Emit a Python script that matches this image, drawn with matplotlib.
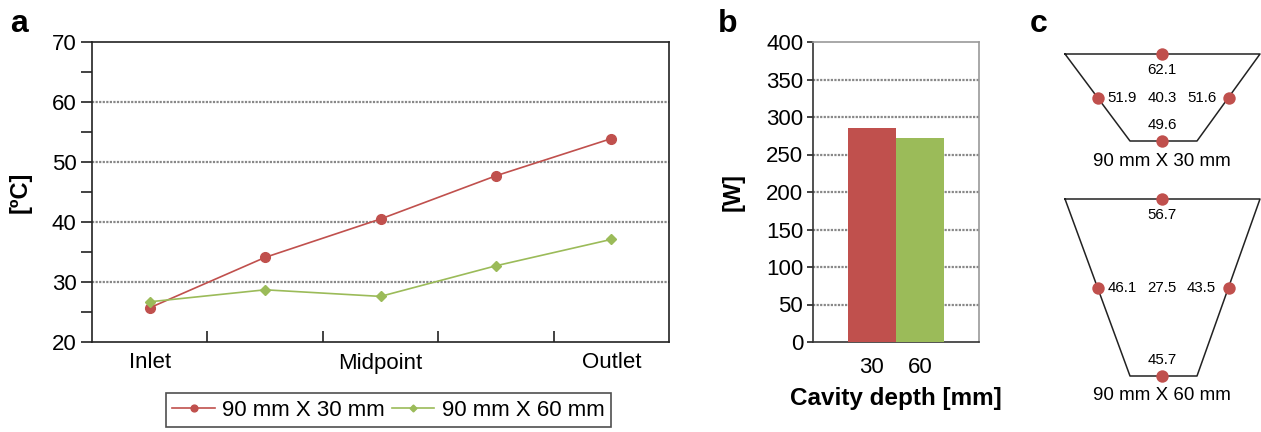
import matplotlib
matplotlib.use("Agg")
import matplotlib.pyplot as plt

plt.rcParams['font.family'] = ['Liberation Sans', 'DejaVu Sans']

# ---------------- data ----------------
positions = ["Inlet", "", "Midpoint", "", "Outlet"]
temp_30 = [25.7, 34.1, 40.5, 47.7, 53.9]
temp_60 = [26.7, 28.7, 27.6, 32.7, 37.1]
series_names = ["90 mm X 30 mm", "90 mm X 60 mm"]

depths = ["30", "60"]
power = [286, 272]

# panel c: surface temperatures (top, left, centre, right, bottom)
surf_30 = [62.1, 51.9, 40.3, 51.6, 49.6]
surf_60 = [56.7, 46.1, 27.5, 43.5, 45.7]

RED = "#C0504D"
GREEN = "#9BBB59"
FS = 16

W, H = 1261, 432
fig = plt.figure(figsize=(W / 100, H / 100), dpi=100)

def ax_rect(x0, x1, ytop, ybot):
    return [x0 / W, 1 - ybot / H, (x1 - x0) / W, (ybot - ytop) / H]

# ---------------- panel a ----------------
axa = fig.add_axes(ax_rect(92, 669, 42, 342))
x = list(range(len(positions)))
la, = axa.plot(x, temp_30, color=RED, lw=1.2, marker='o', ms=7, mec=RED, mfc=RED)
lb, = axa.plot(x, temp_60, color=GREEN, lw=1.2, marker='D', ms=5, mec=GREEN, mfc=GREEN)
axa.set_xlim(-0.5, len(positions) - 0.5)
axa.set_ylim(20, 70)
axa.set_yticks(range(20, 71, 10))
axa.set_yticks(range(25, 70, 10), minor=True)
axa.tick_params(axis='y', which='both', direction='out', length=8, width=1.2,
                labelsize=FS, pad=3, color='#222222')
axa.set_xticks([i + 0.5 for i in range(len(positions) - 1)])
axa.set_xticklabels([])
axa.tick_params(axis='x', which='major', direction='in', length=8, width=1.2, color='#222222')
for i, lab in enumerate(positions):
    if lab:
        axa.text(i, -0.035, lab, transform=axa.get_xaxis_transform(), ha='center',
                 va='top', fontsize=FS)
for v in [30, 40, 50, 60]:
    axa.axhline(v, color='#888888', lw=1.6, ls=(0, (1, 0.6)), zorder=0)
for s in axa.spines.values():
    s.set_color('#222222')
    s.set_linewidth(1.2)
axa.set_ylabel("[ºC]", fontsize=17, fontweight='bold')
axa.yaxis.set_label_coords(-0.104, 0.5)
fig.text(10 / W, 1 - 24 / H, "a", fontsize=23, fontweight='bold', va='center', ha='left')

leg = fig.legend([la, lb], series_names, loc='center', bbox_to_anchor=(388.5 / W, 1 - 410 / H),
                 ncol=2, frameon=True, fancybox=False, fontsize=FS, handlelength=1.9,
                 handletextpad=0.35, columnspacing=0.3, borderpad=0.3,
                 markerscale=0.7)
leg.get_frame().set_edgecolor('#222222')
leg.get_frame().set_linewidth(1.2)

# ---------------- panel b ----------------
axb = fig.add_axes(ax_rect(813, 979, 42, 342))
xb = list(range(len(depths)))
axb.bar(xb, power, width=1.0, color=[RED, GREEN], zorder=3)
axb.set_xlim(-1.22, 2.22)
axb.set_ylim(0, 400)
axb.set_yticks(range(0, 401, 50))
axb.tick_params(axis='y', direction='out', length=4, width=1.2, labelsize=FS, pad=3,
                color='#222222')
axb.set_xticks(xb)
axb.set_xticklabels(depths, fontsize=FS)
axb.tick_params(axis='x', length=0, pad=11)
for v in range(50, 400, 50):
    axb.axhline(v, color='#888888', lw=1.6, ls=(0, (1, 0.6)), zorder=0)
for name, s in axb.spines.items():
    s.set_linewidth(1.2)
    s.set_color('#999999' if name in ('top', 'right') else '#333333')
axb.set_ylabel("[W]", fontsize=17, fontweight='bold')
axb.yaxis.set_label_coords(-0.41, 0.5)
axb.set_xlabel("Cavity depth [mm]", fontsize=17.5, fontweight='bold')
axb.xaxis.set_label_coords(0.5, -(398 - 342) / 300, transform=axb.transAxes)
axb.xaxis.label.set_va('center')
fig.text(718 / W, 1 - 24 / H, "b", fontsize=23, fontweight='bold', va='center', ha='left')

# ---------------- panel c ----------------
axc = fig.add_axes([1020 / W, 0, (W - 1020) / W, 1])
axc.set_xlim(1020, W)
axc.set_ylim(H, 0)
axc.axis('off')

def cavity(top_y, bot_y, vals, title):
    xl_t, xr_t = 1065, 1260
    xl_b, xr_b = 1130, 1197
    cx = (xl_t + xr_t) / 2 - 0.5
    axc.plot([xl_t, xr_t, xr_b, xl_b, xl_t], [top_y, top_y, bot_y, bot_y, top_y],
             color='#222222', lw=1.1, clip_on=False)
    my = (top_y + bot_y) / 2
    lx = (xl_t + xl_b) / 2
    rx = (xr_t + xr_b) / 2
    axc.scatter([cx, lx, rx, cx], [top_y, my, my, bot_y], s=80, color=RED, zorder=5,
                clip_on=False, linewidths=0)
    fs = 10.8
    axc.text(cx, top_y + 16, f"{vals[0]:.1f}", ha='center', va='center', fontsize=fs)
    axc.text(lx + 25, my, f"{vals[1]:.1f}", ha='center', va='center', fontsize=fs)
    axc.text(cx, my, f"{vals[2]:.1f}", ha='center', va='center', fontsize=fs)
    axc.text(rx - 27, my, f"{vals[3]:.1f}", ha='center', va='center', fontsize=fs)
    axc.text(cx, bot_y - 16, f"{vals[4]:.1f}", ha='center', va='center', fontsize=fs)
    axc.text(cx, bot_y + 20, title, ha='center', va='center', fontsize=13.5)

cavity(54, 141, surf_30, series_names[0])
cavity(199, 376, surf_60, series_names[1])
fig.text(1030 / W, 1 - 24 / H, "c", fontsize=23, fontweight='bold', va='center', ha='left')

fig.savefig("out.png", dpi=100)
